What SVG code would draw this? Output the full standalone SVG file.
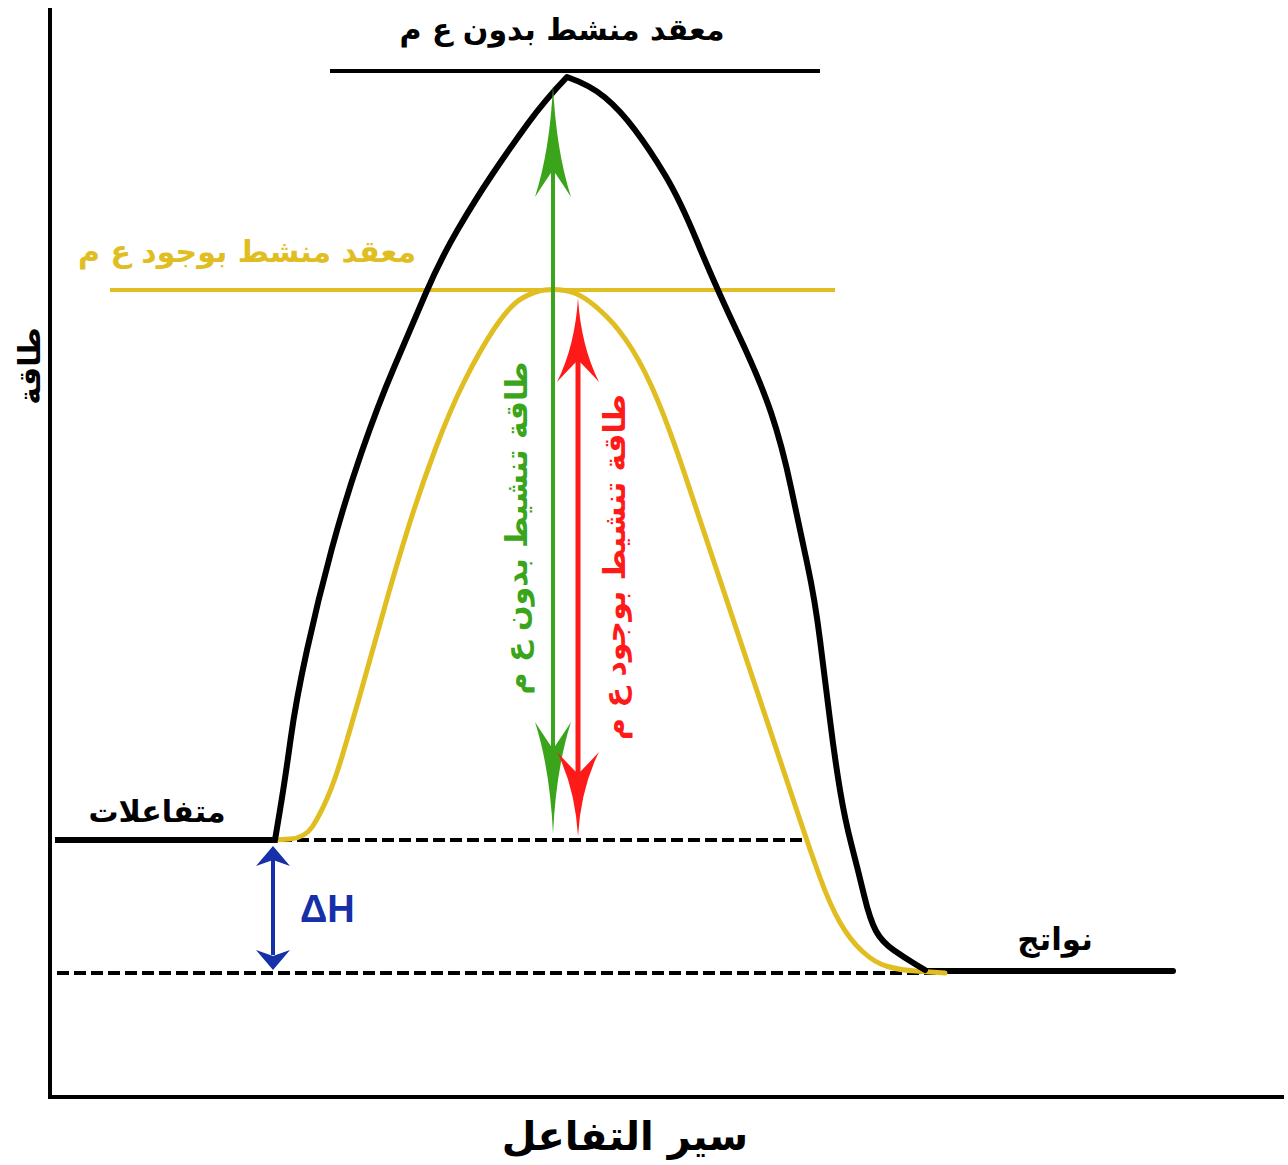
<svg xmlns="http://www.w3.org/2000/svg" width="1288" height="1165" viewBox="0 0 1288 1165">
<style>
.ar{font-family:"DejaVu Sans",sans-serif;font-weight:bold;text-anchor:middle;direction:rtl}
.axis{stroke:#000;stroke-width:4;fill:none}
.dash{stroke:#000;stroke-width:4;stroke-dasharray:12 5;fill:none}
.curveK{stroke:#000;stroke-width:6;fill:none;stroke-linejoin:round;stroke-linecap:round}
.curveY{stroke:#E0BE22;stroke-width:5;fill:none;stroke-linejoin:round;stroke-linecap:round}
</style>
<defs>
<path id="headL" d="M0,0 Q3,65 18,112 Q7,95 0,85 Q-7,95 -18,112 Q-3,65 0,0 Z"/>
<path id="headS" d="M0,0 Q3,48 21,84 Q8,70 0,62 Q-8,70 -21,84 Q-3,48 0,0 Z"/>
</defs>
<rect width="1288" height="1165" fill="#fff"/>
<g id="axes">
<line class="axis" x1="50" y1="8" x2="50" y2="1098"/>
<line class="axis" x1="48" y1="1097" x2="1284" y2="1097"/>
</g>
<g id="levels">
<line x1="330" y1="71" x2="820" y2="71" stroke="#000" stroke-width="4"/>
<line x1="110" y1="290" x2="835" y2="290" stroke="#E0BE22" stroke-width="4"/>
<line class="dash" x1="280" y1="840" x2="808" y2="840"/>
<line class="dash" x1="57" y1="973" x2="945" y2="973"/>
<line x1="55" y1="840" x2="278" y2="840" stroke="#000" stroke-width="6"/>
<line x1="920" y1="971" x2="1173" y2="971" stroke="#000" stroke-width="6" stroke-linecap="round"/>
</g>
<g id="curves">
<path class="curveY" d="M275,840 L290,839 Q305,838 312.5,826.5 Q320,815 327.5,797.5 Q335,780 342.5,755 Q350,730 360,695 Q370,660 382.5,615 Q395,570 407.5,530 Q420,490 435,450 Q450,410 465,380 Q480,350 495,327.5 Q510,305 522.5,298 Q535,291 545,290 Q555,289 565,290.5 Q575,292 585,298.5 Q595,305 607.5,317.5 Q620,330 632.5,350 Q645,370 657.5,400 Q670,430 685,475 Q700,520 715,565 Q730,610 745,655 Q760,700 775,745 Q790,790 800,820 Q810,850 820,877.5 Q830,905 840,922.5 Q850,940 862.5,951.5 Q875,963 887.5,966.5 Q900,970 915,971 L945,973"/>
<path class="curveK" d="M275,840 L280,810 Q285,780 290.5,740 Q296,700 307,650 Q318,600 331.5,550 Q345,500 361.5,452.5 Q378,405 394,367.5 Q410,330 425,295 Q440,260 457.5,230 Q475,200 492.5,174 Q510,148 527.5,124 Q545,100 567,77 Q590,85 605,97.5 Q620,110 635,130 Q650,150 665,175 Q680,200 697.5,242.5 Q715,285 737.5,332.5 Q760,380 771,412.5 Q782,445 791,487.5 Q800,530 807.5,565 Q815,600 820,640 Q825,680 830,720 Q835,760 840,790 Q845,820 851.5,845 Q858,870 864,895 Q870,920 876,931 Q882,942 893.5,950 Q905,958 915,964 L925,970"/>
</g>
<g id="connectors">
<g id="green-arrow" fill="#3AA51A">
<line x1="553" y1="150" x2="553" y2="780" stroke="#3AA51A" stroke-width="4"/>
<use href="#headL" transform="translate(553,85)"/>
<use href="#headL" transform="translate(553,834) rotate(180)"/>
</g>
<g id="red-arrow" fill="#FF1A1A">
<line x1="578" y1="350" x2="578" y2="790" stroke="#FF1A1A" stroke-width="5"/>
<use href="#headS" transform="translate(578,298)"/>
<use href="#headS" transform="translate(578,836) rotate(180)"/>
</g>
<g id="dh-arrow" fill="#1530A8">
<line x1="273" y1="860" x2="273" y2="955" stroke="#1530A8" stroke-width="4"/>
<path d="M273,846 L290,866 L273,860 L256,866 Z"/>
<path d="M273,970 L290,950 L273,956 L256,950 Z"/>
</g>
</g>
<g id="label-ts-uncat"><text class="ar" x="562" y="40" font-size="30" fill="#000">معقد منشط بدون ع م</text></g>
<g id="label-ts-cat"><text class="ar" x="247" y="262" font-size="30" fill="#E0BE22">معقد منشط بوجود ع م</text></g>
<g id="label-energy"><text class="ar" transform="translate(40,366) rotate(-90)" font-size="30" fill="#000">طاقة</text></g>
<g id="label-reactants"><text class="ar" x="157" y="822" font-size="30" fill="#000">متفاعلات</text></g>
<g id="label-products"><text class="ar" x="1055" y="950" font-size="31" fill="#000">نواتج</text></g>
<g id="label-dh"><text x="300" y="922" font-family="Liberation Sans, sans-serif" font-weight="bold" font-size="38" fill="#1530A8">ΔH</text></g>
<g id="label-xaxis"><text class="ar" x="625" y="1150" font-size="40" fill="#000">سير التفاعل</text></g>
<g id="label-ea-uncat"><text class="ar" transform="translate(527,528) rotate(-90)" font-size="30" fill="#3AA51A">طاقة تنشيط بدون ع م</text></g>
<g id="label-ea-cat"><text class="ar" transform="translate(625,567) rotate(-90)" font-size="30" fill="#FF1A1A">طاقة تنشيط بوجود ع م</text></g>
</svg>
